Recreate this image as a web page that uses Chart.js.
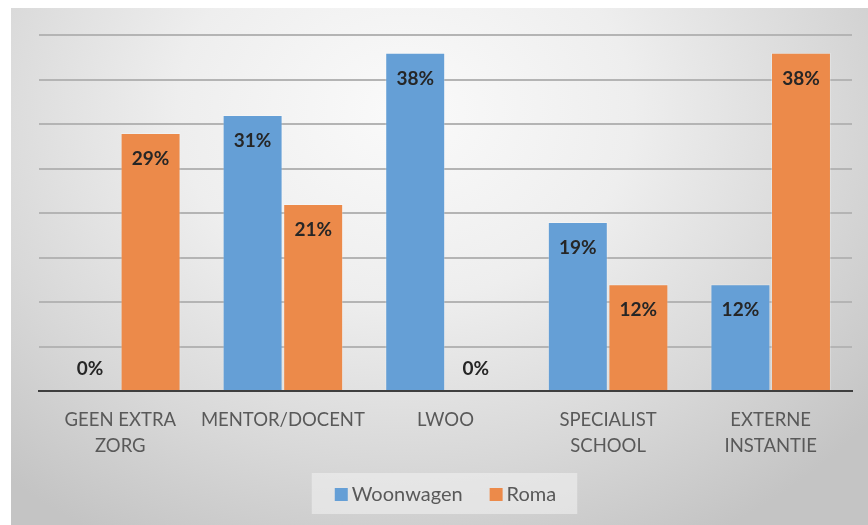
<!DOCTYPE html>
<html>
<head>
<meta charset="utf-8">
<script src="https://cdn.jsdelivr.net/npm/chart.js@4"></script>
<style>
  html, body { margin: 0; padding: 0; background: #ffffff; }
  #wrap { position: relative; width: 868px; height: 525px; }
  #bg { position: absolute; left: 11px; top: 8px; width: 857px; height: 517px;
        background: radial-gradient(ellipse 70% 95% at 46% 20%, #fafafa 0%, #eeeeee 38%, #d8d8d8 72%, #c4c4c4 100%); }
  #c { position: absolute; left: 0; top: 0; }
</style>
</head>
<body>
<div id="wrap">
  <div id="bg"></div>
  <canvas id="c" width="868" height="525"></canvas>
</div>
<script>
const categories = [["GEEN EXTRA", "ZORG"], "MENTOR/DOCENT", "LWOO", ["SPECIALIST", "SCHOOL"], ["EXTERNE", "INSTANTIE"]];
const woonwagen = [0, 31, 38, 19, 12];
const roma = [29, 21, 0, 12, 38];
const seriesNames = ["Woonwagen", "Roma"];
const seriesColors = ["#659fd6", "#ec8a4a"];
const yTicks = [0, 5, 10, 15, 20, 25, 30, 35, 40];

const FONT = "Lato, 'Open Sans', sans-serif";

const labelPlugin = {
  id: 'barLabels',
  afterDatasetsDraw(chart) {
    const ctx = chart.ctx;
    ctx.save();
    ctx.font = "bold 19px " + FONT;
    ctx.fillStyle = "#262626";
    ctx.textAlign = "center";
    ctx.textBaseline = "middle";
    chart.data.datasets.forEach((ds, i) => {
      const meta = chart.getDatasetMeta(i);
      meta.data.forEach((bar, j) => {
        const v = ds.data[j];
        const y = v > 0 ? bar.y + 26 : bar.base - 22;
        ctx.fillText(v + "%", bar.x, y);
      });
    });
    ctx.restore();
  }
};

// custom bottom legend drawn from the datasets
const legendPlugin = {
  id: 'customLegend',
  afterDraw(chart) {
    const ctx = chart.ctx;
    const ds = chart.data.datasets;
    ctx.save();
    ctx.font = "20px " + FONT;
    const box = 13, gapText = 4, gapItem = 27, padL = 23, padR = 21;
    const widths = ds.map(d => box + gapText + ctx.measureText(d.label).width);
    const total = widths.reduce((a, b) => a + b, 0) + gapItem * (ds.length - 1);
    const cx = (chart.chartArea.left + chart.chartArea.right) / 2;
    const cy = 494;
    let x = cx - total / 2;
    ctx.fillStyle = "rgba(240,240,240,0.6)";
    ctx.fillRect(x - padL, cy - 21, total + padL + padR, 41);
    ctx.textBaseline = "middle";
    ctx.textAlign = "left";
    ds.forEach((d, i) => {
      ctx.fillStyle = d.backgroundColor;
      ctx.fillRect(x, cy - 6, box, box);
      ctx.fillStyle = "#595959";
      ctx.fillText(d.label, x + box + gapText, cy + 1);
      x += widths[i] + gapItem;
    });
    ctx.restore();
  }
};

new Chart(document.getElementById('c'), {
  type: 'bar',
  data: {
    labels: categories,
    datasets: [
      { label: seriesNames[0], data: woonwagen, backgroundColor: seriesColors[0], borderColor: "rgba(255,255,255,0.25)", borderWidth: 1 },
      { label: seriesNames[1], data: roma, backgroundColor: seriesColors[1], borderColor: "rgba(255,255,255,0.25)", borderWidth: 1 }
    ]
  },
  options: {
    responsive: false,
    animation: false,
    devicePixelRatio: 1,
    layout: { padding: { left: 39, right: 16, top: 35, bottom: 62 } },
    datasets: { bar: { categoryPercentage: 0.745, barPercentage: 0.99 } },
    scales: {
      x: {
        grid: { display: false },
        border: { display: true, color: "#3f3f3f", width: 2 },
        ticks: { color: "#595959", font: { family: FONT, size: 18.5, lineHeight: 1.42 }, padding: 8, maxRotation: 0, autoSkip: false },
        afterFit(scale) { scale.height = 72; }
      },
      y: {
        min: 0, max: 40,
        afterBuildTicks(scale) { scale.ticks = yTicks.map(v => ({ value: v })); },
        ticks: { display: false },
        border: { display: false },
        grid: { color: "#b4b4b4", lineWidth: 2, drawTicks: false },
        afterFit(scale) { scale.width = 0; }
      }
    },
    plugins: {
      legend: { display: false },
      tooltip: { enabled: false }
    }
  },
  plugins: [labelPlugin, legendPlugin]
});
</script>
</body>
</html>
